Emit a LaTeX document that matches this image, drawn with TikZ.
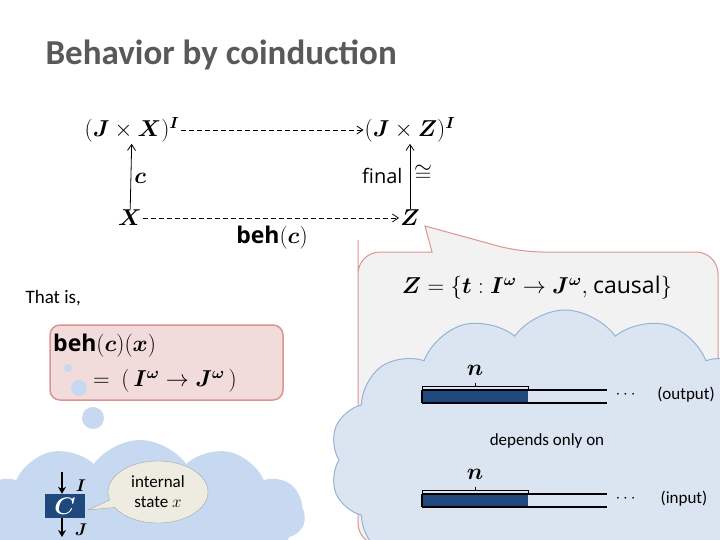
\documentclass[tikz,border=0pt]{standalone}
\usepackage{fix-cm}
\usepackage{amsmath}
\usepackage{bm}
\usepackage{fontspec}
\setmainfont{Carlito}
\setsansfont{Open Sans}
\usetikzlibrary{shapes.symbols,shapes.geometric,shapes.callouts,arrows.meta}
\definecolor{title}{HTML}{595959}
\definecolor{dblue}{HTML}{1F497D}
\definecolor{cloudA}{HTML}{DBE5F1}
\definecolor{cloudB}{HTML}{95B3D7}
\definecolor{cloudC}{HTML}{C6D9F0}
\definecolor{pinkF}{HTML}{F2DCDB}
\definecolor{pinkD}{HTML}{D99594}
\definecolor{bubF}{HTML}{F2F2F2}
\definecolor{bubD}{HTML}{C0504D}
\definecolor{ellF}{HTML}{EEECE1}
\tikzset{
  mnode/.style={inner sep=1pt,font=\fontsize{23}{26}\selectfont},
  darr/.style={-{Straight Barb[length=6pt,width=8pt]},dash pattern=on 5pt off 3pt,line width=0.8pt},
  sarr/.style={-{Straight Barb[length=6pt,width=8pt]},line width=0.8pt},
  txt/.style={font=\fontsize{17}{20}\selectfont},
  bar/.style={line width=1.8pt},
}
\begin{document}
\begin{tikzpicture}[x=1pt,y=-1pt]
\useasboundingbox (0,0) rectangle (720,540);
\fill[white] (0,0) rectangle (720,540);
\node[anchor=west,text=title,font=\fontsize{35}{40}\selectfont\bfseries] (title) at (42,55) {Behavior by coinduction};
% diagram
\node[mnode] (JX) at (132,130) {$(\bm{J}\times\bm{X})^{\bm{I}}$};
\node[mnode] (JZ) at (410,130) {$(\bm{J}\times\bm{Z})^{\bm{I}}$};
\node[mnode] (X) at (130,218) {$\bm{X}$};
\node[mnode] (Z) at (410,218) {$\bm{Z}$};
\draw[darr] (JX) -- (JZ);
\draw[darr] (X) -- (Z);
\draw[sarr] (X) -- node[right,mnode,xshift=2pt,yshift=-2pt]{$\bm{c}$} (JX);
\draw[sarr] (Z) -- (JZ);
\node[anchor=east,font=\sffamily\fontsize{20}{24}\selectfont] (final) at (406,176) {final};
\node[anchor=west,mnode] (cong) at (413,173) {$\cong$};
\node[mnode] (behc) at (272,238) {\sffamily\bfseries beh$(\bm{c})$};
% speech bubble
\draw[bubD!60,fill=bubF,line width=1pt,rounded corners=22pt]
  (358,262) -- (358,545) -- (718,545) -- (718,252) -- (520,252) [sharp corners] -- (425,226) -- (432,252) [rounded corners=22pt] -- (358,252) -- cycle;
\node[mnode] (Zdef) at (537,288) {$\bm{Z}=\{\bm{t}:\bm{I}^{\bm{\omega}}\to\bm{J}^{\bm{\omega}},\ $\sffamily causal$\}$};
% big cloud
\node[cloud,cloud puffs=14,cloud puff arc=110,aspect=1.6,fill=cloudA,draw=cloudB,line width=1pt,minimum width=470pt,minimum height=300pt] (cloud1) at (565,460) {};
% output bar
\fill[dblue] (422,390) rectangle (528,403);
\draw[bar] (422,390) -- (607,390);
\draw[bar] (422,403) -- (607,403);
\draw[bar] (422,390) -- (422,403);
\draw[line width=1pt] (422,390) -- (422,386) -- (528,386) -- (528,390);
\draw[line width=1pt] (475,386) -- (475,383);
\node[mnode] (n1) at (475,370) {$\bm{n}$};
\node[txt] (dots1) at (627,395) {$\cdots$};
\node[txt] (out) at (686,395) {(output)};
\node[txt] (dep) at (547,441) {depends only on};
% input bar
\fill[dblue] (422,494) rectangle (528,507);
\draw[bar] (422,494) -- (607,494);
\draw[bar] (422,507) -- (607,507);
\draw[bar] (422,494) -- (422,507);
\draw[line width=1pt] (422,494) -- (422,490) -- (528,490) -- (528,494);
\draw[line width=1pt] (475,490) -- (475,487);
\node[mnode] (n2) at (475,474) {$\bm{n}$};
\node[txt] (dots2) at (627,499) {$\cdots$};
\node[txt] (inp) at (684,499) {(input)};
% left
\node[anchor=west,font=\fontsize{19}{22}\selectfont] (thatis) at (22,298) {That is,};
\draw[pinkD,fill=pinkF,line width=1.5pt,rounded corners=10pt] (50,325) rectangle (283,400);
\node[mnode,anchor=west] (beh) at (52,346) {\sffamily\bfseries beh$(\bm{c})(\bm{x})$};
\node[mnode,anchor=west] (eq) at (92,381) {$=\ (\,\bm{I}^{\bm{\omega}}\to\bm{J}^{\bm{\omega}}\,)$};
\fill[cloudC] (68,368) circle (4);
\fill[cloudC] (79,388) circle (8);
\fill[cloudC] (93,418) circle (11);
% bottom-left cloud
\node[cloud,cloud puffs=11,cloud puff arc=110,aspect=2.6,fill=cloudC,minimum width=330pt,minimum height=150pt] (cloud2) at (140,515) {};
\node[fill=dblue,minimum width=40pt,minimum height=24pt,inner sep=0pt,text=white,font=\fontsize{24}{26}\selectfont] (cbox) at (65,506) {$\bm{C}$};
\coordinate (ctop) at (62,472);
\coordinate (cbot) at (62,537);
\draw[-{Stealth[length=7pt,width=8pt]},line width=2pt] (ctop) -- (cbox.north -| ctop);
\draw[-{Stealth[length=7pt,width=8pt]},line width=2pt] (cbox.south -| ctop) -- (cbot);
\node[font=\fontsize{17}{19}\selectfont] (Ilab) at (81,486) {$\bm{I}$};
\node[font=\fontsize{17}{19}\selectfont] (Jlab) at (81,530) {$\bm{J}$};
\node[ellipse callout,callout absolute pointer={(88,510)},fill=ellF,draw=gray!70,minimum width=100pt,minimum height=62pt,align=center,font=\fontsize{17}{20}\selectfont] (state) at (158,492) {internal\\state $x$};
\end{tikzpicture}
\end{document}
